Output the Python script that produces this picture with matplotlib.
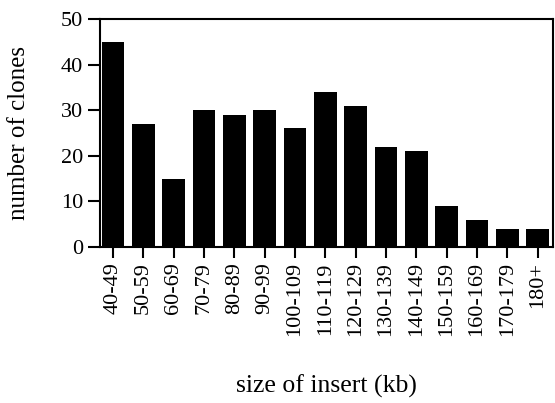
import matplotlib
matplotlib.use("Agg")
import matplotlib.pyplot as plt
import numpy as np

# insert size bins and clone counts
sizes = ["40-49", "50-59", "60-69", "70-79", "80-89", "90-99", "100-109",
         "110-119", "120-129", "130-139", "140-149", "150-159", "160-169",
         "170-179", "180+"]
clones = [45, 27, 15, 30, 29, 30, 26, 34, 31, 22, 21, 9, 6, 4, 4]
yticks = [0, 10, 20, 30, 40, 50]

plt.rcParams["font.family"] = ["Liberation Serif", "DejaVu Serif"]

fig = plt.figure(figsize=(5.55, 4.03), dpi=100)
ax = fig.add_axes([0.180, 0.387, 0.816, 0.566])

x = np.arange(len(sizes))
ax.bar(x, clones, width=0.74, color="black")

ax.set_xlim(-0.43, len(sizes) - 0.5)
ax.set_ylim(0, 50)
ax.set_yticks(yticks)
ax.set_xticks(x)
ax.set_xticklabels(sizes, rotation=90, fontsize=16)
ax.tick_params(axis="y", labelsize=16, length=9, width=1.5, direction="out", pad=3)
ax.tick_params(axis="x", length=8, width=1.5, direction="out", pad=3)

for s in ax.spines.values():
    s.set_linewidth(1.5)

ax.set_ylabel("number of clones", fontsize=18)
ax.yaxis.set_label_coords(-0.155, 0.5)
ax.set_xlabel("size of insert (kb)", fontsize=18.5)
ax.xaxis.set_label_coords(0.5, -0.56)

plt.savefig("out.png", dpi=100)
